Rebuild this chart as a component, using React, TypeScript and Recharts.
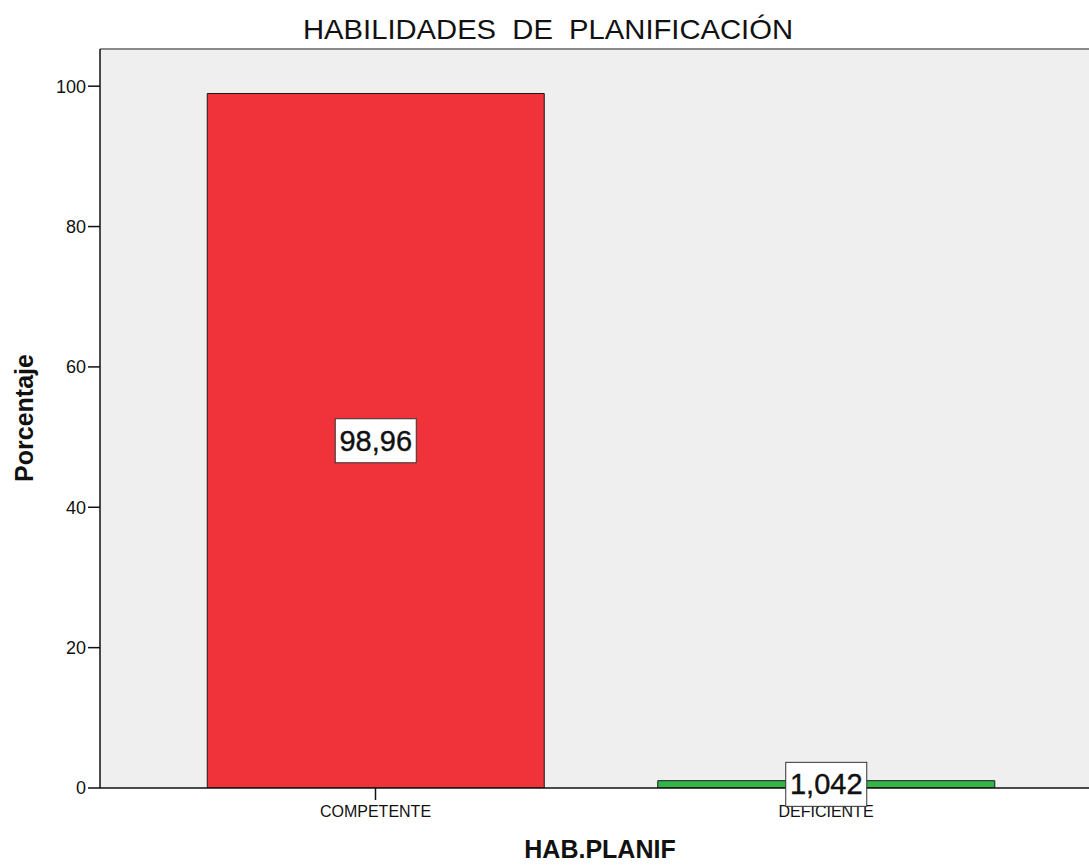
import React from 'react';
import { BarChart, Bar, XAxis, YAxis, CartesianGrid, LabelList, ReferenceLine, Cell } from 'recharts';

// HAB.PLANIF frequencies (percent)
const categories = ['COMPETENTE', 'DEFICIENTE'];
const percentages = [98.96, 1.042];
const valueLabels = ['98,96', '1,042'];
const barColors = ['#F0323A', '#33B54A'];
const yTicks = [0, 20, 40, 60, 80, 100];
const yMax = 105.3;
const title = 'HABILIDADES  DE  PLANIFICACIÓN';

const data = categories.map((c, i) => ({ category: c, value: percentages[i], label: valueLabels[i] }));

const FONT = 'Arial, "Liberation Sans", Helvetica, sans-serif';

function BoxLabel(props: any) {
  const { x, y, width, height, value } = props;
  const cx = x + width / 2;
  const cy = y + height / 2;
  return (
    <g>
      <rect x={cx - 40.5} y={cy - 22} width={81} height={44} fill="#fff" stroke="#333" strokeWidth={1} />
      <text x={cx} y={cy} textAnchor="middle" dominantBaseline="central" fontSize={29} fontFamily={FONT} fill="#111" stroke="#111" strokeWidth={0.4}>
        {value}
      </text>
    </g>
  );
}

export default function App() {
  return (
    <div style={{ position: 'absolute', left: 0, top: 0, width: 1089, height: 865, background: '#fff', overflow: 'hidden' }}>
      <BarChart width={1089} height={865} data={data} margin={{ top: 49, right: 0, bottom: 0, left: 0 }}>
        <CartesianGrid fill="#EFEFEF" horizontal={false} vertical={false} />
        <XAxis
          dataKey="category"
          height={77}
          padding={{ left: 50.25, right: 37.75 }}
          axisLine={{ stroke: '#111', strokeWidth: 1.5 }}
          tickLine={{ stroke: '#111', strokeWidth: 1.5 }}
          tickSize={12}
          tickMargin={6}
          tick={{ fontSize: 16, fontFamily: FONT, fill: '#111' }}
          interval={0}
        />
        <YAxis
          width={100}
          domain={[0, yMax]}
          ticks={yTicks}
          allowDataOverflow
          axisLine={{ stroke: '#111', strokeWidth: 1.5 }}
          tickLine={{ stroke: '#111', strokeWidth: 1.5 }}
          tickSize={12}
          tickMargin={2}
          tick={{ fontSize: 18, fontFamily: FONT, fill: '#111' }}
        />
        <ReferenceLine y={yMax} stroke="#8A8A8A" strokeWidth={2} />
        <Bar dataKey="value" barSize={337} stroke="#1a1a1a" strokeWidth={1} isAnimationActive={false}>
          {data.map((d, i) => (
            <Cell key={d.category} fill={barColors[i]} />
          ))}
          <LabelList dataKey="label" content={BoxLabel} />
        </Bar>
      </BarChart>
      <svg width={1089} height={865} style={{ position: 'absolute', left: 0, top: 0, pointerEvents: 'none' }}>
        <text x={303} y={39} fontSize={28} fontFamily={FONT} fill="#111" textLength={490} lengthAdjust="spacingAndGlyphs" style={{ whiteSpace: 'pre' }}>
          {title}
        </text>
        <text x={600} y={858} textAnchor="middle" fontSize={25} fontWeight="bold" fontFamily={FONT} fill="#111">
          HAB.PLANIF
        </text>
        <text x={33} y={418} transform="rotate(-90 33 418)" textAnchor="middle" fontSize={25} fontWeight="bold" fontFamily={FONT} fill="#111">
          Porcentaje
        </text>
      </svg>
    </div>
  );
}
